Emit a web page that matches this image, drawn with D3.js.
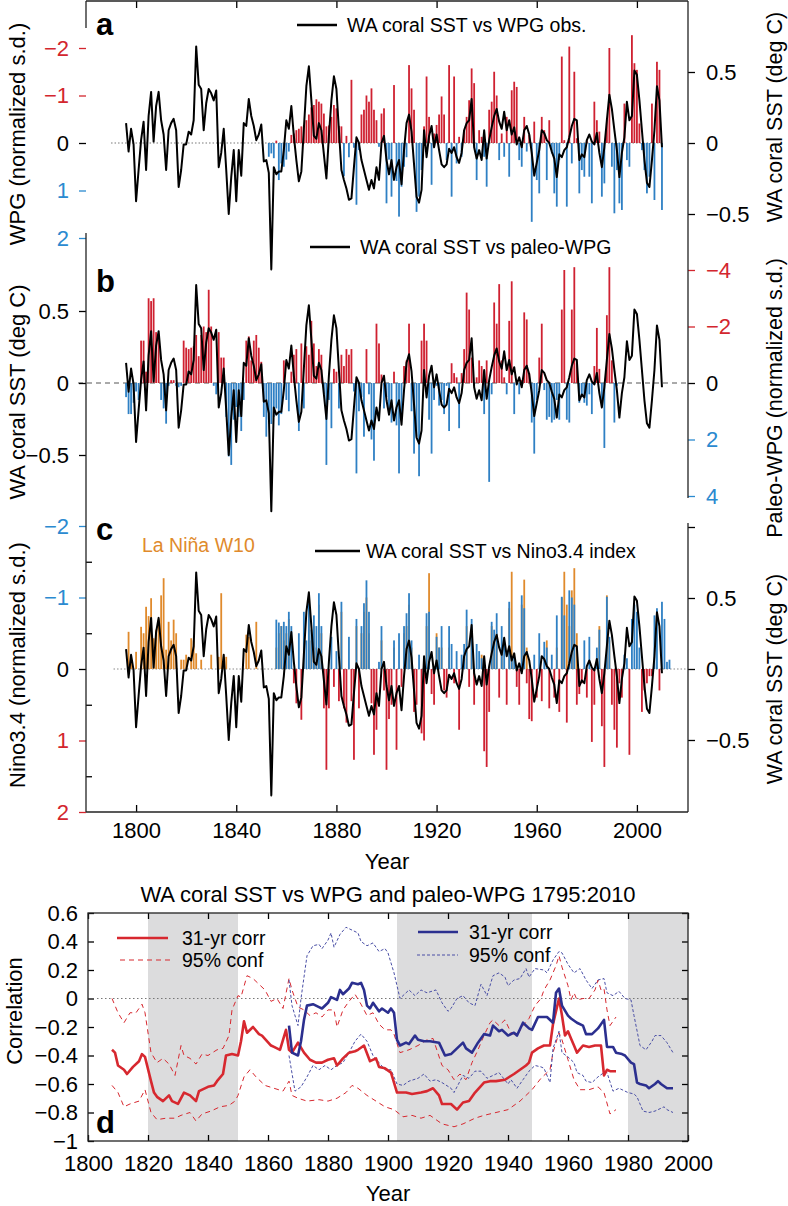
<!DOCTYPE html>
<html>
<head>
<meta charset="utf-8">
<script src="https://cdn.jsdelivr.net/npm/d3@7"></script>
<style>
body { margin: 0; background: #fff; }
text { font-family: "Liberation Sans", Arial, Helvetica, sans-serif; }
</style>
</head>
<body>
<script>
// ---- data ----

// WA coral SST anomaly (deg C), annual, 1796-2010
const coralStart = 1796
const coralSST = [
  0.14, -0.06, 0.10, -0.01,
  -0.41, -0.19, 0.02, 0.15, -0.19, 0.19, 0.36, 0.01, 0.26, 0.36,
  0.16, 0.06, -0.19, 0.09, 0.14, 0.17, 0.09, -0.31, -0.19, -0.01,
  -0.01, 0.08, 0.06, 0.16, 0.68, 0.41, 0.38, 0.09, 0.28, 0.38,
  0.35, 0.30, 0.37, -0.17, -0.07, 0.10, -0.19, -0.50, -0.24, -0.05,
  -0.41, -0.05, -0.23, 0.14, 0.12, 0.31, 0.19, 0.12, 0.02, 0.06,
  0.13, -0.13, -0.12, -0.21, -0.89, -0.17, -0.22, -0.20, -0.20, -0.05,
  0.16, 0.10, 0.26, 0.05, -0.12, -0.27, -0.20, 0.10, 0.40, 0.54,
  0.30, 0.05, 0.03, 0.14, 0.09, -0.08, -0.25, 0.05, 0.30, 0.47,
  0.38, 0.09, -0.19, -0.26, -0.32, -0.40, -0.39, -0.17, 0.04, 0.00,
  -0.12, -0.19, -0.26, -0.33, -0.26, -0.32, -0.17, -0.26, 0.00, 0.05,
  -0.12, -0.22, -0.12, -0.26, -0.17, -0.12, -0.29, -0.05, 0.14, 0.20,
  0.08, -0.15, -0.38, -0.42, -0.33, 0.09, -0.10, 0.05, 0.12, -0.03,
  0.06, -0.05, -0.15, -0.17, -0.15, -0.04, -0.07, -0.03, -0.10, -0.14,
  -0.07, 0.09, 0.14, 0.16, 0.31, -0.03, -0.11, -0.05, -0.12, 0.09,
  -0.11, 0.02, 0.11, 0.19, 0.24, 0.15, 0.10, 0.22, 0.09, 0.16,
  0.06, 0.11, -0.01, 0.04, -0.03, 0.09, 0.12, 0.06, -0.07, -0.23,
  -0.14, -0.05, 0.09, 0.07, 0.02, 0.00, -0.06, -0.11, -0.24, -0.08,
  -0.10, -0.05, -0.03, 0.04, 0.12, 0.17, 0.16, -0.12, -0.08, -0.10,
  0.02, 0.06, 0.01, -0.01, 0.07, -0.07, -0.17, -0.03, 0.16, 0.34,
  0.24, 0.09, -0.05, -0.24, -0.07, 0.04, 0.29, 0.16, 0.19, 0.51,
  0.48, 0.30, 0.09, -0.12, -0.28, -0.31, -0.12, 0.09, 0.40, 0.30, -0.03
]

// WPG obs (normalized s.d.), 1853-2010
const wpgStart = 1853
const wpgObs = [
  0.29, 0.22, 0.32, -0.05, 0.78, 0.43, 0.50,
  0.35, 0.18, -0.17, -0.20, -0.27, -0.30, -0.35, -0.38, -0.48, -0.60,
  -0.75, -0.80, -0.92, -0.87, -0.83, -0.62, -0.35, -0.37, -0.55, -0.80,
  -0.73, -0.36, -0.35, 0.70, -0.15, 0.30, -1.33, 0.10, 1.30, 0.15,
  -0.60, -0.70, -1.00, -0.87, -1.15, -0.70, -0.48, 0.08, -0.62, -0.73,
  1.27, 0.35, 1.13, -1.22, 0.80, 1.55, 0.92, 0.50, 0.30, -1.64,
  -1.15, -0.70, 1.45, 1.13, 0.57, -0.35, -1.40, -0.55, 0.88, -0.20,
  -0.38, -0.60, -0.98, -0.60, 0.36, -1.64, 1.13, -1.40, 0.43, -0.13,
  0.29, -0.27, -0.55, -0.90, -1.57, -1.26, 0.78, -0.27, -0.13, 0.29,
  0.92, -0.70, -0.87, -1.50, -1.00, 0.36, -0.20, 0.29, -0.55, 0.71,
  -1.11, -1.29, -1.18, 0.36, 0.50, -0.55, 0.18, -0.17, 1.66, -0.45,
  0.78, 1.06, -0.55, -0.27, 0.78, -0.48, 0.22, 1.06, 1.34, 0.36,
  -1.82, -0.06, 1.34, -2.03, 0.43, -1.50, -0.10, 1.06, 0.57, 0.71,
  -0.06, 0.71, 1.27, -0.87, -0.48, -0.24, 1.13, 0.85, -0.50, -2.00,
  0.50, 1.48, 0.57, 1.27, 1.41, -0.83, 0.36, 0.50, -2.27, -1.68,
  -1.54, -0.41, 0.15, 0.57, 1.06, 0.71, -0.83, 1.20, -1.71, -1.54, 1.41
]

// paleo-WPG (normalized s.d.), 1796-1992
const paleoStart = 1796
const paleoWPG = [
  0.5, 1.1, 1.1, 0.7,
  0.3, 0.6, -1.5, -1.5, -0.4, -3.0, -2.9, -3.0, -1.8, -1.65,
  0.6, 0.9, 1.44, 0.1, -0.1, -0.1, 0.1, 0.15, 0.1, -1.5,
  -1.25, -1.2, -1.25, -1.3, -1.7, -0.95, -1.7, -2.0, -1.8, -3.3,
  -2.0, 0.1, 0.4, -1.8, -0.9, -0.9, 1.2, 2.6, 2.9, 1.3,
  0.85, 1.2, 1.7, 0.6, -1.5, -1.65, -0.8, -1.5, -1.7, -1.25,
  -0.75, 1.2, 1.9, 1.3, 1.45, 1.2, 0.9, 1.5, 1.1, -0.8,
  0.6, 1.0, -0.4, -1.0, -1.2, 1.7, -1.4, 0.9, -1.3, -1.0,
  -2.2, -1.4, -0.6, -1.2, -1.0, 0.4, 2.9, 0.6, 1.6, -0.5,
  -0.4, 0.9, -1.0, -0.6, -1.2, -1.0, -1.2, 0.3, 3.2, 1.0,
  0.5, 1.9, -1.2, 0.4, 2.0, 2.75, -2.1, -1.4, -0.3, 0.9,
  0.5, 1.0, 1.4, -0.4, 1.5, 3.2, 1.2, -0.6, -0.8, -2.1,
  1.0, 2.5, 1.9, 3.3, -1.5, -2.1, -1.5, 1.3, 2.5, 0.6,
  0.1, 0.8, 0.6, 1.1, 0.1, 1.7, -0.7, -0.35, -0.2, 1.6,
  -0.35, -1.2, -3.2, -2.6, -0.9, 0.1, -0.2, -0.8, -0.6, 1.1,
  -0.8, 3.5, 0.4, -2.85, -2.1, -3.5, -0.8, -0.2, 0.4, -2.2,
  -3.6, 1.1, 0.0, 0.4, -0.1, -2.5, -2.25, -0.35, 1.4, 2.5,
  0.6, -0.9, -2.1, 0.25, 1.3, 1.2, 1.4, 1.3, 0.6, 1.3,
  -2.6, -4.0, 1.3, 1.4, -2.6, -4.1, -0.7, 0.7, 0.5, 0.7,
  0.8, 0.4, 1.1, -0.6, -1.95, -0.5, 0.85, 2.3, -2.4, -4.1,
  -0.8, 1.4, 0.1
]

// Nino3.4 index (normalized s.d.), 1856-2013
const ninoStart = 1856
const nino34 = [
  -0.69, -0.65, -0.60, -0.66,
  -0.60, -0.80, -0.60, 0.20, 0.48, -0.50, 0.71, -0.80, -0.40, -0.92,
  -0.55, -0.75, -0.60, -1.06, -0.60, 0.55, 1.41, 0.55, -0.45, 0.25,
  -0.25, 0.45, -0.94, 0.55, 0.75, -0.45, 0.45, 1.27, -0.70, 0.55,
  -0.60, -0.92, -1.24, -0.80, 0.48, 1.20, 0.85, -0.10, -0.60, 0.30,
  1.41, 0.70, 0.50, -0.40, 1.13, -0.50, 0.25, -0.60, -0.78, -1.06,
  -0.40, 0.60, 0.50, -0.20, 0.90, 1.00, -0.78, -0.80, 0.35, 0.50,
  -0.45, -0.30, -0.60, 0.30, 0.40, -0.60, -0.35, 0.20, -0.25, 0.85,
  -0.20, -0.35, -0.83, 0.25, -0.70, 0.50, -0.35, -0.25, -0.15, 1.15,
  1.37, 0.60, -0.66, -0.55, -0.78, 0.40, -0.60, -0.35, 0.50, -0.94,
  -0.17, -0.17, 0.25, 0.50, -1.03, -0.85, 0.20, 0.70, 0.73, -0.20,
  0.40, -0.50, 0.45, -0.38, -0.30, 0.55, -0.20, 0.40, -0.75, 0.60,
  -1.01, -0.75, 0.75, -1.10, -1.00, -0.90, 0.50, 0.35, 0.20, -0.40,
  0.40, -0.45, 1.02, 0.50, -0.30, -0.55, 0.80, 1.37, -1.01, -0.45,
  0.50, 0.85, 1.10, 0.20, 0.40, -0.20, -0.15, 1.20, -0.70, -0.90,
  -0.80, -0.30, 0.60, 0.30, 0.20, 0.10, 0.10, -0.75, -0.85, 0.30,
  -0.94, -0.70, -0.10, -0.13
]

// La Nina W10 reconstruction (normalized s.d., La Nina years only), 1796-1989
const ninaStart = 1796
const laNinaW10 = [
  0, -0.52, -0.17, 0,
  -0.24, 0, -0.59, -0.50, -0.87, -0.74, -0.99, -0.43, -0.55, -0.69,
  -1.03, -1.27, -0.27, -0.66, -0.40, -0.69, -0.50, 0, -0.13, -0.13,
  -0.20, 0, -0.43, -0.40, -0.22, 0, -0.13, 0, 0, 0,
  -0.20, 0, 0, -0.17, -1.06, -0.17, -0.17, 0, 0, 0,
  0, 0, 0, 0, -0.48, -0.45, 0, 0, -0.66, 0,
  0, 0, 0, 0, 0, 0, -0.30, -0.50, -0.60, -0.40,
  -0.50, -0.70, 0, 0, 0, 0, 0, -0.50, 0, -0.80,
  -0.40, -0.60, -0.30, -0.90, -0.50, 0, 0, 0, 0, 0,
  0, 0, -0.80, 0, 0, 0, 0, 0, -0.60, 0,
  -0.50, -0.80, -1.00, -0.50, 0, 0, 0, 0, -0.40, 0,
  0, 0, 0, -0.30, 0, 0, 0, -0.50, -0.60, -0.90,
  -0.30, 0, 0, 0, 0, 0, -0.60, -1.34, 0, 0,
  -0.50, -0.30, -0.30, 0, 0, -0.30, 0, 0, 0, 0,
  0, 0, -0.60, 0, -0.50, 0, 0, 0, -0.20, 0,
  0, 0, -0.60, -0.40, -0.50, 0, -0.30, 0, 0, -0.85,
  -1.36, 0, 0, 0, -0.90, -1.25, -0.30, 0, 0, 0,
  0, 0, 0, 0, -0.40, 0, 0, 0, -0.30, 0,
  -1.00, -1.36, -0.90, -0.60, -1.10, -1.41, -0.50, 0, 0, 0,
  0, 0, 0, 0, 0, -0.60, 0, 0, -1.03, -0.40
]

// panel d: 31-yr running correlations [year, r]
const wpgCorr = [[1808,-0.36],[1809,-0.38],[1810,-0.47],[1812,-0.50],[1813,-0.53],[1815,-0.48],[1817,-0.44],[1818,-0.39],[1819,-0.41],[1821,-0.58],[1822,-0.66],[1823,-0.69],[1825,-0.72],[1827,-0.68],[1828,-0.72],[1830,-0.74],[1832,-0.66],[1834,-0.68],[1836,-0.72],[1837,-0.65],[1840,-0.62],[1842,-0.61],[1843,-0.58],[1845,-0.53],[1846,-0.40],[1848,-0.39],[1850,-0.40],[1851,-0.30],[1852,-0.16],[1853,-0.24],[1855,-0.20],[1857,-0.25],[1858,-0.26],[1861,-0.33],[1862,-0.34],[1864,-0.36],[1866,-0.22],[1867,-0.36],[1868,-0.38],[1870,-0.31],[1872,-0.38],[1874,-0.43],[1876,-0.45],[1878,-0.45],[1880,-0.43],[1882,-0.42],[1883,-0.47],[1885,-0.42],[1887,-0.38],[1889,-0.37],[1890,-0.36],[1892,-0.33],[1894,-0.44],[1896,-0.42],[1897,-0.48],[1899,-0.49],[1901,-0.52],[1903,-0.66],[1906,-0.66],[1908,-0.67],[1911,-0.66],[1913,-0.65],[1915,-0.63],[1917,-0.68],[1918,-0.74],[1921,-0.74],[1923,-0.78],[1925,-0.73],[1927,-0.72],[1929,-0.66],[1932,-0.59],[1934,-0.58],[1936,-0.58],[1939,-0.57],[1942,-0.53],[1944,-0.50],[1946,-0.47],[1947,-0.45],[1948,-0.38],[1950,-0.35],[1952,-0.33],[1954,-0.33],[1955,-0.18],[1957,0.00],[1958,-0.12],[1959,-0.26],[1960,-0.23],[1961,-0.28],[1962,-0.33],[1963,-0.38],[1965,-0.33],[1967,-0.34],[1969,-0.33],[1971,-0.33],[1972,-0.54],[1973,-0.50],[1974,-0.51],[1976,-0.51]]
const wpgUpper = [[1808,0.00],[1810,-0.10],[1812,-0.17],[1814,-0.10],[1816,-0.10],[1818,-0.04],[1819,-0.10],[1821,-0.38],[1823,-0.45],[1825,-0.42],[1827,-0.46],[1829,-0.54],[1831,-0.33],[1832,-0.40],[1834,-0.42],[1836,-0.46],[1838,-0.39],[1840,-0.40],[1843,-0.36],[1845,-0.35],[1847,-0.26],[1848,-0.08],[1850,0.02],[1851,0.01],[1853,0.16],[1855,0.14],[1857,0.10],[1859,0.06],[1861,-0.02],[1863,0.00],[1865,-0.07],[1867,0.14],[1868,0.06],[1870,-0.06],[1872,-0.08],[1874,-0.12],[1876,-0.10],[1878,-0.13],[1880,-0.08],[1882,-0.08],[1883,-0.20],[1885,-0.08],[1887,-0.02],[1889,0.03],[1891,-0.04],[1893,-0.12],[1895,-0.10],[1897,-0.18],[1899,-0.22],[1901,-0.22],[1902,-0.25],[1904,-0.38],[1907,-0.36],[1910,-0.33],[1913,-0.29],[1915,-0.28],[1918,-0.47],[1920,-0.50],[1922,-0.57],[1924,-0.53],[1926,-0.57],[1928,-0.45],[1930,-0.36],[1932,-0.26],[1934,-0.17],[1935,-0.15],[1937,-0.19],[1939,-0.15],[1941,-0.24],[1943,-0.26],[1945,-0.19],[1947,-0.14],[1949,-0.05],[1951,0.00],[1952,0.06],[1954,0.13],[1956,0.23],[1957,0.30],[1958,0.22],[1960,0.09],[1961,-0.01],[1962,0.04],[1963,-0.01],[1965,0.00],[1967,0.00],[1969,0.06],[1970,0.13],[1971,0.06],[1972,0.07],[1973,-0.08],[1974,-0.19],[1976,-0.13]]
const wpgLower = [[1808,-0.61],[1810,-0.66],[1812,-0.76],[1814,-0.74],[1817,-0.72],[1819,-0.64],[1821,-0.80],[1823,-0.85],[1826,-0.84],[1829,-0.84],[1831,-0.82],[1834,-0.80],[1836,-0.86],[1838,-0.81],[1841,-0.79],[1844,-0.76],[1847,-0.75],[1849,-0.72],[1850,-0.68],[1852,-0.55],[1854,-0.50],[1856,-0.55],[1859,-0.61],[1862,-0.63],[1865,-0.65],[1867,-0.58],[1868,-0.68],[1870,-0.70],[1873,-0.72],[1877,-0.71],[1880,-0.72],[1883,-0.70],[1886,-0.66],[1888,-0.61],[1890,-0.63],[1893,-0.68],[1896,-0.72],[1899,-0.76],[1902,-0.78],[1905,-0.83],[1908,-0.82],[1911,-0.84],[1914,-0.82],[1918,-0.88],[1922,-0.90],[1925,-0.88],[1929,-0.84],[1932,-0.82],[1936,-0.80],[1940,-0.78],[1944,-0.72],[1948,-0.64],[1951,-0.56],[1954,-0.50],[1955,-0.38],[1957,-0.24],[1958,-0.29],[1960,-0.43],[1962,-0.57],[1964,-0.64],[1967,-0.64],[1970,-0.62],[1972,-0.66],[1974,-0.81],[1976,-0.78]]
const paleoCorr = [[1867,-0.19],[1868,-0.38],[1870,-0.40],[1871,-0.30],[1872,-0.15],[1873,-0.05],[1875,-0.04],[1877,-0.06],[1878,-0.07],[1880,-0.03],[1881,0.01],[1883,-0.01],[1884,0.06],[1885,0.03],[1887,0.07],[1888,0.11],[1890,0.10],[1891,0.11],[1892,0.06],[1893,-0.05],[1894,-0.07],[1895,-0.03],[1897,-0.09],[1898,-0.07],[1900,-0.10],[1901,-0.07],[1902,-0.10],[1903,-0.29],[1904,-0.33],[1906,-0.31],[1907,-0.32],[1909,-0.26],[1910,-0.29],[1912,-0.30],[1914,-0.30],[1917,-0.31],[1919,-0.40],[1921,-0.39],[1923,-0.35],[1925,-0.31],[1926,-0.35],[1928,-0.38],[1930,-0.31],[1932,-0.25],[1934,-0.26],[1935,-0.19],[1937,-0.23],[1938,-0.22],[1940,-0.26],[1942,-0.24],[1943,-0.26],[1945,-0.17],[1947,-0.21],[1948,-0.22],[1950,-0.13],[1953,-0.13],[1955,-0.17],[1956,0.04],[1957,0.07],[1958,-0.05],[1960,-0.12],[1961,-0.14],[1963,-0.17],[1965,-0.19],[1966,-0.25],[1968,-0.25],[1970,-0.21],[1972,-0.15],[1973,-0.34],[1975,-0.34],[1976,-0.38],[1978,-0.39],[1979,-0.40],[1981,-0.45],[1982,-0.46],[1983,-0.59],[1984,-0.60],[1986,-0.61],[1987,-0.63],[1989,-0.60],[1990,-0.58],[1991,-0.60],[1993,-0.63],[1995,-0.63]]
const paleoUpper = [[1867,0.13],[1868,-0.05],[1870,-0.19],[1871,0.00],[1873,0.30],[1875,0.37],[1877,0.38],[1878,0.35],[1880,0.41],[1881,0.46],[1882,0.36],[1884,0.45],[1886,0.50],[1888,0.48],[1890,0.46],[1891,0.40],[1893,0.37],[1895,0.39],[1897,0.33],[1899,0.35],[1900,0.32],[1902,0.18],[1904,0.00],[1905,0.02],[1907,0.06],[1909,0.02],[1911,0.06],[1913,0.04],[1916,0.06],[1918,-0.03],[1920,-0.09],[1921,-0.07],[1923,0.00],[1925,0.02],[1927,-0.03],[1929,-0.05],[1931,0.10],[1933,0.02],[1935,0.16],[1937,0.18],[1939,0.15],[1940,0.09],[1942,0.13],[1944,0.14],[1946,0.21],[1947,0.15],[1949,0.21],[1952,0.20],[1953,0.18],[1955,0.27],[1957,0.33],[1958,0.32],[1960,0.24],[1962,0.18],[1964,0.21],[1966,0.13],[1968,0.07],[1970,0.13],[1972,0.14],[1973,0.04],[1975,0.02],[1977,0.05],[1979,0.00],[1981,-0.01],[1982,-0.12],[1984,-0.33],[1986,-0.36],[1988,-0.30],[1989,-0.26],[1991,-0.26],[1993,-0.31],[1995,-0.38]]
const paleoLower = [[1867,-0.40],[1869,-0.65],[1871,-0.62],[1873,-0.55],[1875,-0.47],[1877,-0.50],[1879,-0.47],[1881,-0.50],[1883,-0.47],[1885,-0.45],[1887,-0.38],[1889,-0.30],[1891,-0.25],[1893,-0.30],[1895,-0.40],[1897,-0.45],[1899,-0.50],[1901,-0.50],[1903,-0.60],[1905,-0.61],[1907,-0.58],[1910,-0.56],[1912,-0.53],[1914,-0.58],[1916,-0.57],[1918,-0.59],[1921,-0.63],[1922,-0.66],[1924,-0.58],[1925,-0.54],[1927,-0.56],[1929,-0.51],[1931,-0.51],[1933,-0.56],[1935,-0.54],[1937,-0.52],[1940,-0.60],[1941,-0.57],[1943,-0.63],[1945,-0.57],[1947,-0.51],[1949,-0.47],[1951,-0.48],[1952,-0.49],[1954,-0.59],[1955,-0.35],[1957,-0.23],[1958,-0.38],[1960,-0.41],[1962,-0.45],[1963,-0.52],[1965,-0.54],[1966,-0.58],[1968,-0.59],[1970,-0.55],[1972,-0.52],[1973,-0.52],[1975,-0.65],[1977,-0.63],[1979,-0.65],[1980,-0.66],[1982,-0.67],[1983,-0.69],[1985,-0.79],[1987,-0.80],[1989,-0.79],[1992,-0.76],[1993,-0.78],[1995,-0.80]]
const greyPeriods = [[1820, 1850], [1903, 1948], [1980, 2000]]

// ---- drawing ----
const red = "#cf2131", blue = "#2f80c4", orange = "#e08a2c"
const redTxt = "#d3262e", blueTxt = "#2b8ad0"
const fmt = d3.format("")

const svg = d3.select("body").append("svg")
    .attr("width", 788)
    .attr("height", 1206)

function series(start, vals) {
    return vals.map((v, i) => ({yr: start + i, v: v}))
}

// shared year axis of panels a-c
const x = d3.scaleLinear().domain([1780, 2020.4]).range([86, 688])

const yWpgA = d3.scaleLinear().domain([-2, 2]).range([48, 238])
const ySstA = d3.scaleLinear().domain([0.5, -0.5]).range([72, 214])
const ySstB = d3.scaleLinear().domain([0.5, -0.5]).range([311, 455])
const yPwgB = d3.scaleLinear().domain([-4, 4]).range([270, 496])
const yNino = d3.scaleLinear().domain([-2, 2]).range([526, 812])
const ySstC = d3.scaleLinear().domain([0.5, -0.5]).range([598, 740])

function drawBars(g, data, y, color, w) {
    g.selectAll(null)
        .data(data.filter(d => d.v !== 0))
        .enter().append("rect")
        .attr("x", d => x(d.yr) - w / 2)
        .attr("width", w)
        .attr("y", d => Math.min(y(0), y(d.v)))
        .attr("height", d => Math.abs(y(d.v) - y(0)))
        .attr("fill", color)
}

function zeroLine(y, x1, x2, dash, col) {
    svg.append("line")
        .attr("x1", x1).attr("x2", x2)
        .attr("y1", y(0)).attr("y2", y(0))
        .attr("stroke", col).attr("stroke-width", 1)
        .attr("stroke-dasharray", dash)
}

const coral = series(coralStart, coralSST)
function coralLine(y) {
    svg.append("path")
        .datum(coral)
        .attr("fill", "none")
        .attr("stroke", "#000")
        .attr("stroke-width", 2)
        .attr("stroke-linejoin", "round")
        .attr("d", d3.line().x(d => x(d.yr)).y(d => y(d.v)))
}

const sdColor = v => v < 0 ? redTxt : (v > 0 ? blueTxt : "#000")
const ninoColor = v => v < 0 ? blueTxt : (v > 0 ? redTxt : "#000")

function yAxis(gen, xpos, colorFn) {
    const g = svg.append("g")
        .attr("transform", `translate(${xpos},0)`)
        .call(gen)
    g.select(".domain").remove()
    g.attr("font-size", 22).attr("font-family", null)
    g.selectAll(".tick line").attr("stroke", d => colorFn(d)).attr("stroke-width", 1.3)
    g.selectAll(".tick text").attr("fill", d => colorFn(d))
    return g
}
const black = () => "#000"

// panel a
zeroLine(yWpgA, x(1790), x(2010), "1.5,2", "#777")
drawBars(svg.append("g"), series(wpgStart, wpgObs), yWpgA, d => d.v < 0 ? red : blue, 1.8)
coralLine(ySstA)

// panel b
zeroLine(yPwgB, 78, 686, "5,4", "#555")
drawBars(svg.append("g"), series(paleoStart, paleoWPG), yPwgB, d => d.v < 0 ? red : blue, 1.8)
coralLine(ySstB)

// panel c
zeroLine(yNino, x(1791), 686, "1.5,2", "#888")
drawBars(svg.append("g"), series(ninaStart, laNinaW10), yNino, orange, 1.8)
drawBars(svg.append("g"), series(ninoStart, nino34), yNino, d => d.v < 0 ? blue : red, 1.8)
coralLine(ySstC)

// axes of panels a-c
yAxis(d3.axisLeft(yWpgA).tickValues([-2, -1, 0, 1, 2]).tickSize(7).tickPadding(10).tickFormat(fmt), 86, sdColor)
yAxis(d3.axisRight(ySstA).tickValues([0.5, 0, -0.5]).tickSize(7).tickPadding(11).tickFormat(fmt), 688, black)
yAxis(d3.axisLeft(ySstB).tickValues([0.5, 0, -0.5]).tickSize(7).tickPadding(10).tickFormat(fmt), 86, black)
yAxis(d3.axisRight(yPwgB).tickValues([-4, -2, 0, 2, 4]).tickSize(7).tickPadding(11).tickFormat(fmt), 688, sdColor)
yAxis(d3.axisLeft(yNino).tickValues([-2, -1, 0, 1, 2]).tickSize(7).tickPadding(10).tickFormat(fmt), 86, ninoColor)
yAxis(d3.axisLeft(yNino).tickValues([-1.5, -0.5, 0.5, 1.5]).tickSize(-6).tickFormat(""), 86, black)
yAxis(d3.axisRight(ySstC).tickValues([1, 0.5, 0, -0.5]).tickSize(7).tickPadding(11)
    .tickFormat(d => d === 1 ? "" : fmt(d)), 688, black)

const xb = svg.append("g").attr("transform", "translate(0,812)")
    .call(d3.axisBottom(x).tickValues(d3.range(1800, 2001, 40)).tickSize(-7).tickPadding(10).tickFormat(d3.format("d")))
xb.select(".domain").remove()
xb.attr("font-size", 22).attr("font-family", null)
xb.selectAll(".tick line").attr("stroke", "#000").attr("stroke-width", 1.3)
const xt = svg.append("g").attr("transform", "translate(0,1)")
    .call(d3.axisTop(x).tickValues(d3.range(1800, 2001, 40)).tickSize(-7).tickFormat(""))
xt.select(".domain").remove()
xt.selectAll(".tick line").attr("stroke", "#000").attr("stroke-width", 1.3)

// frame pieces of the stacked panels
const frame = [[86, 1, 688, 1], [86, 812, 688, 812], [86, 1, 86, 28], [86, 233, 86, 812], [688, 1, 688, 498], [688, 523, 688, 812]]
svg.selectAll(null).data(frame).enter().append("line")
    .attr("x1", d => d[0]).attr("y1", d => d[1]).attr("x2", d => d[2]).attr("y2", d => d[3])
    .attr("stroke", "#222").attr("stroke-width", 1.3)

// labels and legends, panels a-c
function label(t, xp, yp, opts) {
    const o = opts || {}
    const el = svg.append("text").text(t)
        .attr("x", xp).attr("y", yp)
        .attr("font-size", o.size || 22)
        .attr("fill", o.fill || "#000")
        .attr("text-anchor", o.anchor || "start")
    if (o.bold) el.attr("font-weight", "bold")
    if (o.rot) el.attr("transform", `rotate(-90,${xp},${yp})`)
    return el
}
function legLine(x1, x2, y, col, w, dash) {
    svg.append("line").attr("x1", x1).attr("x2", x2).attr("y1", y).attr("y2", y)
        .attr("stroke", col).attr("stroke-width", w).attr("stroke-dasharray", dash || null)
}

label("a", 96, 35, {size: 31, bold: true})
label("b", 96, 292, {size: 31, bold: true})
label("c", 96, 540, {size: 31, bold: true})

legLine(297, 337, 25, "#000", 2.5)
label("WA coral SST vs WPG obs.", 347, 32, {size: 19.5})
legLine(310, 350, 247, "#000", 2.5)
label("WA coral SST vs paleo-WPG", 360, 254, {size: 19.5})
legLine(315, 360, 551, "#000", 2.5)
label("WA coral SST vs Nino3.4 index", 366, 558, {size: 19.5})
label("La Niña W10", 142, 552, {size: 19.5, fill: orange})

label("WPG (normalized s.d.)", 25, 134, {anchor: "middle", rot: true})
label("WA coral SST (deg C)", 25, 392, {anchor: "middle", rot: true})
label("Nino3.4 (normalized s.d.)", 25, 665, {anchor: "middle", rot: true})
label("WA coral SST (deg C)", 782, 117, {anchor: "middle", rot: true, size: 21.5})
label("Paleo-WPG (normalized s.d.)", 782, 398, {anchor: "middle", rot: true, size: 21.5})
label("WA coral SST (deg C)", 782, 679, {anchor: "middle", rot: true, size: 21.5})
label("Year", 387, 869, {anchor: "middle"})

// ---- panel d ----
const xd = d3.scaleLinear().domain([1800, 2000]).range([88, 688])
const yd = d3.scaleLinear().domain([-1, 0.6]).range([1141, 913])

svg.selectAll(null).data(greyPeriods).enter().append("rect")
    .attr("x", d => xd(d[0])).attr("width", d => xd(d[1]) - xd(d[0]))
    .attr("y", yd(0.6)).attr("height", yd(-1) - yd(0.6))
    .attr("fill", "#dcdcdd")

svg.append("line").attr("x1", xd(1803)).attr("x2", xd(2000))
    .attr("y1", yd(0)).attr("y2", yd(0))
    .attr("stroke", "#777").attr("stroke-width", 1).attr("stroke-dasharray", "1.5,2.5")

const dline = d3.line().x(d => xd(d[0])).y(d => yd(d[1]))
function corrLine(data, col, w, dash) {
    svg.append("path").datum(data)
        .attr("fill", "none").attr("stroke", col).attr("stroke-width", w)
        .attr("stroke-dasharray", dash || null)
        .attr("stroke-linejoin", "round")
        .attr("d", dline)
}
const dRed = "#d7282f", dBlue = "#2b2f8f", dBlueLight = "#4a4fa6"
corrLine(wpgUpper, dRed, 1, "5,4")
corrLine(wpgLower, dRed, 1, "5,4")
corrLine(paleoUpper, dBlueLight, 1, "3,2")
corrLine(paleoLower, dBlueLight, 1, "3,2")
corrLine(wpgCorr, dRed, 2.6)
corrLine(paleoCorr, dBlue, 2.6)

function dAxis(gen, tr) {
    const g = svg.append("g").attr("transform", tr).call(gen)
    g.select(".domain").remove()
    g.attr("font-size", 22).attr("font-family", null)
    g.selectAll(".tick line").attr("stroke", "#000").attr("stroke-width", 1.3)
    return g
}
const rTicks = [0.6, 0.4, 0.2, 0, -0.2, -0.4, -0.6, -0.8, -1]
dAxis(d3.axisLeft(yd).tickValues(rTicks).tickSize(-6).tickPadding(10).tickFormat(fmt), "translate(88,0)")
dAxis(d3.axisRight(yd).tickValues(rTicks).tickSize(-6).tickFormat(""), "translate(688,0)")
dAxis(d3.axisBottom(xd).tickValues(d3.range(1800, 2001, 20)).tickSize(-6).tickPadding(14).tickFormat(d3.format("d")), "translate(0,1141)")
dAxis(d3.axisTop(xd).tickValues(d3.range(1800, 2001, 20)).tickSize(-6).tickFormat(""), "translate(0,913)")

svg.append("rect").attr("x", 88).attr("y", 913).attr("width", 600).attr("height", 228)
    .attr("fill", "none").attr("stroke", "#222").attr("stroke-width", 1.3)

label("WA coral SST vs WPG and paleo-WPG 1795:2010", 388, 902, {anchor: "middle"})
label("Correlation", 22, 1011, {anchor: "middle", rot: true})
label("Year", 388, 1201, {anchor: "middle"})
label("d", 96, 1133, {size: 31, bold: true})

legLine(117, 168, 938, dRed, 2.6)
label("31-yr corr", 182, 945, {size: 19.5})
legLine(120, 172, 960, dRed, 1, "5,4")
label("95% conf", 182, 967, {size: 19.5})
legLine(418, 458, 932, dBlue, 2.6)
label("31-yr corr", 469, 939, {size: 19.5})
legLine(417, 458, 955, dBlueLight, 1, "3,2")
label("95% conf", 469, 962, {size: 19.5})
</script>
</body>
</html>
